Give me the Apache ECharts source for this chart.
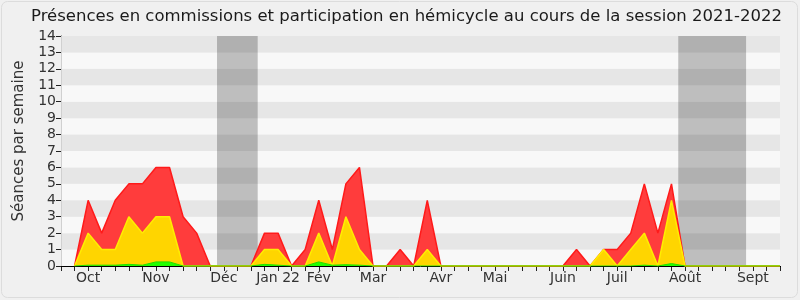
<!DOCTYPE html>
<html>
<head>
<meta charset="utf-8">
<script src="https://cdn.jsdelivr.net/npm/echarts@6/dist/echarts.min.js"></script>
<style>html,body{margin:0;padding:0;background:#f0f0f0;}#c{width:800px;height:300px;}</style>
</head>
<body>
<div id="c"></div>
<script>
// weekly values, week index 1..53
const weeks = Array.from({length: 53}, (_, k) => k + 1);
const presences = [0,4,2,4,5,5,6,6,3,2,0,0,0,0,2,2,0,1,4,1,5,6,0,0,1,0,4,0,0,0,0,0,0,0,0,0,0,1,0,1,1,2,5,2,5,0,0,0,0,0,0,0,0];
const participations = [0,2,1,1,3,2,3,3,0,0,0,0,0,0,1,1,0,0,2,0,3,1,0,0,0,0,1,0,0,0,0,0,0,0,0,0,0,0,0,1,0,1,2,0,4,0,0,0,0,0,0,0,0];
const interventions = [0,0.05,0.05,0.05,0.1,0.05,0.25,0.25,0,0,0,0,0,0,0.1,0.05,0,0,0.25,0.05,0.08,0.05,0,0,0,0,0,0,0,0,0,0,0,0,0,0,0,0,0,0,0,0,0.05,0,0.15,0,0,0,0,0,0,0,0];
// month labels at week index
const monthTicks = {2:'Oct',7:'Nov',12:'Déc',16:'Jan 22',19:'Fév',23:'Mar',28:'Avr',32:'Mai',37:'Juin',41:'Juil',46:'Août',51:'Sept'};
// holiday bands (week index ranges)
const vacances = [[11.5,14.5],[45.5,50.5]];

const FONT = 'DejaVu Sans';
const chart = echarts.init(document.getElementById('c'), null, {renderer: 'canvas'});
const pair = arr => arr.map((v, k) => [weeks[k], v]);
chart.setOption({
  backgroundColor: '#f0f0f0',
  animation: false,
  textStyle: {fontFamily: FONT},
  title: {
    text: 'Présences en commissions et participation en hémicycle au cours de la session 2021-2022',
    left: 26, top: 3,
    textStyle: {fontFamily: FONT, fontSize: 16.5, fontWeight: 'normal', color: '#1a1a1a'}
  },
  graphic: [{type: 'rect', z: -10, silent: true, shape: {x: 1.5, y: 1.5, width: 796, height: 296, r: 6}, style: {fill: 'none', stroke: '#dcdcdc', lineWidth: 1}}],
  grid: {left: 61, right: 20, top: 36, bottom: 34, show: true, backgroundColor: 'transparent', borderColor: '#d8d8d8', borderWidth: 0},
  xAxis: [{
    type: 'value', min: 0, max: 53, interval: 1,
    axisLine: {show: true, onZero: false, lineStyle: {color: '#000', width: 1}},
    axisTick: {show: true, length: 5, lineStyle: {color: '#222'}},
    axisLabel: {fontFamily: FONT, fontSize: 14, color: '#333', margin: 5, formatter: v => monthTicks[v] || ''},
    splitLine: {show: false}
  }, {
    type: 'value', min: 0, max: 53, interval: 1, position: 'top',
    axisLine: {show: false},
    axisTick: {show: true, inside: true, length: 1, lineStyle: {color: '#000'}},
    axisLabel: {show: false}, splitLine: {show: false}
  }],
  yAxis: [{
    type: 'value', min: 0, max: 14, interval: 1,
    name: 'Séances par semaine', nameLocation: 'middle', nameGap: 34,
    nameTextStyle: {fontFamily: FONT, fontSize: 15, color: '#333', padding: [0, 0, 0, 20]},
    axisLine: {show: true, lineStyle: {color: '#000'}},
    axisTick: {show: true, length: 5, lineStyle: {color: '#222'}},
    axisLabel: {fontFamily: FONT, fontSize: 14, color: '#333', margin: 5},
    splitLine: {show: false},
    splitArea: {show: true, areaStyle: {color: ['#f8f8f8', '#e6e6e6']}}
  }, {
    type: 'value', min: 0, max: 14, interval: 1, position: 'right',
    axisLine: {show: true, lineStyle: {color: '#d0d0d0'}},
    axisTick: {show: false}, axisLabel: {show: false}, splitLine: {show: false}
  }],
  series: [
    {
      type: 'line', name: 'présences', data: pair(presences), symbol: 'none',
      lineStyle: {color: '#ff1a1a', width: 1.5}, areaStyle: {color: '#ff3c3c', opacity: 1},
      z: 3,
      markArea: {silent: true, itemStyle: {color: 'rgba(0,0,0,0.23)'}, data: vacances.map(r => [{xAxis: r[0]}, {xAxis: r[1]}])}
    },
    {
      type: 'line', name: 'participations', data: pair(participations), symbol: 'none',
      lineStyle: {color: '#ffee00', width: 1.5}, areaStyle: {color: '#ffd500', opacity: 1}, z: 4
    },
    {
      type: 'line', name: 'interventions', data: pair(interventions), symbol: 'none',
      lineStyle: {color: '#22dd00', width: 1}, areaStyle: {color: '#22ff00', opacity: 1}, z: 5
    }
  ]
});
</script>
</body>
</html>
